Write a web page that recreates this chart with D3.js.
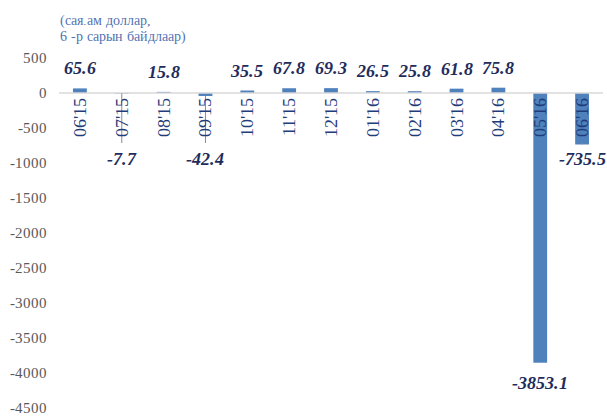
<!DOCTYPE html>
<html><head><meta charset="utf-8">
<script src="https://cdn.jsdelivr.net/npm/d3@7"></script>
<style>
@font-face{font-family:"RefSerif";src:local("Liberation Serif"),local("LiberationSerif");font-weight:normal;font-style:normal}
@font-face{font-family:"RefSerif";src:local("Liberation Serif Bold Italic"),local("LiberationSerif-BoldItalic");font-weight:bold;font-style:italic}
body{margin:0;background:#fff}svg{display:block}
svg text{font-family:"RefSerif","Liberation Serif","Times New Roman",serif}
</style>
</head><body>
<svg id="c" width="607" height="417"></svg>
<script>
const categories = ["06'15","07'15","08'15","09'15","10'15","11'15","12'15","01'16","02'16","03'16","04'16","05'16","06'16"];
const values = [65.6,-7.7,15.8,-42.4,35.5,67.8,69.3,26.5,25.8,61.8,75.8,-3853.1,-735.5];
const yTicks = [500,0,-500,-1000,-1500,-2000,-2500,-3000,-3500,-4000,-4500];
const titleLines = ["(сая.ам доллар,","6 -р сарын байдлаар)"];

const svg = d3.select("#c");
const x = d3.scaleBand().domain(categories).range([59,603]).paddingInner(0.67).paddingOuter(0.335);
const y = d3.scaleLinear().domain([-4500,500]).range([408,58]);

// title
svg.append("g").selectAll("text").data(titleLines).join("text")
  .attr("x",60).attr("y",(d,i)=>25+i*15.5)
  .attr("font-size",14).attr("fill","#4f72b0")
  .text(d=>d);

// y axis labels (from the scale)
svg.append("g").selectAll("text").data(yTicks).join("text")
  .attr("x",47).attr("y",d=>y(d)).attr("dy","0.32em")
  .attr("text-anchor","end")
  .attr("font-size",15).attr("fill","#595959")
  .text(d=>d);

// bars
svg.append("g").selectAll("rect").data(values).join("rect")
  .attr("x",(d,i)=>x(categories[i]))
  .attr("width",x.bandwidth())
  .attr("y",d=>Math.min(y(d),y(0)))
  .attr("height",d=>Math.abs(y(d)-y(0)))
  .attr("fill","#4f81bd");

// zero axis line
svg.append("line").attr("x1",59).attr("x2",603).attr("y1",y(0)).attr("y2",y(0))
  .attr("stroke","#d9d9d9").attr("stroke-width",1.5);

// leader lines for small negative values (labels moved below category labels)
const lblBelow = 66;
const smallNeg = values.map((v,i)=>({v,i})).filter(d=>d.v<0 && y(d.v)-y(0) < 55);
svg.append("g").selectAll("line").data(smallNeg).join("line")
  .attr("x1",d=>x(categories[d.i])+x.bandwidth()/2)
  .attr("x2",d=>x(categories[d.i])+x.bandwidth()/2)
  .attr("y1",d=>y(d.v)).attr("y2",y(0)+50)
  .attr("stroke","#8c8c8c").attr("stroke-width",1);

// category labels
svg.append("g").selectAll("text").data(categories).join("text")
  .attr("transform",d=>`translate(${x(d)+x.bandwidth()/2+6},${y(0)+5}) rotate(-90)`)
  .attr("text-anchor","end")
  .attr("font-size",18).attr("fill","#1f3d7a")
  .text(d=>d);

// data labels
svg.append("g").selectAll("text").data(values).join("text")
  .attr("x",(d,i)=>x(categories[i])+x.bandwidth()/2)
  .attr("y",d=>{
    if(d>=0) return y(d)-14;
    if(y(d)-y(0) < 55) return y(0)+lblBelow+6;
    return y(d)+26;
  })
  .attr("text-anchor","middle")
  .attr("font-size",18).attr("font-weight","bold").attr("font-style","italic")
  .attr("fill","#1f2d5c")
  .text(d=>d.toFixed(1));
</script>
</body></html>
